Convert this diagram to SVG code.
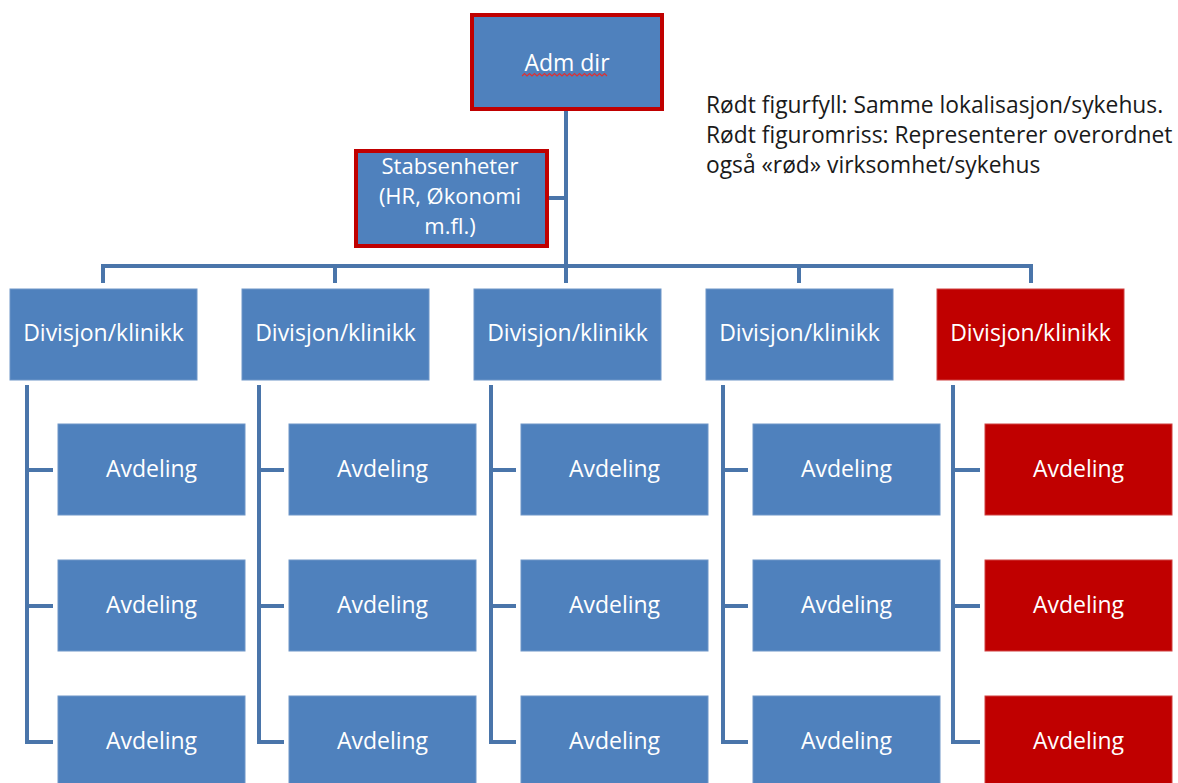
<svg xmlns="http://www.w3.org/2000/svg" width="1178" height="783" viewBox="0 0 1178 783">
  <style>
    .box { fill: #4F81BD; stroke: #6E96C8; stroke-width: 1; }
    .red { fill: #C00000; stroke: #D04040; stroke-width: 1; }
    .lead { fill: #4F81BD; stroke: #C00000; stroke-width: 4; }
    .lbl { font-family: "Open Sans", Lato, "Liberation Sans", sans-serif; font-size: 23px; fill: #FFFFFF; text-anchor: middle; }
    .stab { font-size: 22px; }
    .note { font-family: "Open Sans", Lato, "Liberation Sans", sans-serif; font-size: 22.8px; fill: #1A1A1A; }
    .wire { fill: none; stroke: #4A75AA; stroke-width: 4; stroke-linejoin: miter; }
  </style>
  <rect width="1178" height="783" fill="#FFFFFF"/>

  <!-- connectors -->
  <g id="connectors" class="wire">
    <path d="M566 111 V283"/>
    <path d="M549 198 H566"/>
    <path d="M103 283 V266 H1031 V283"/>
    <path d="M335 266 V283"/>
    <path d="M799 266 V283"/>
    <!-- column spines -->
    <path d="M27 385 V742 H53 M27 470 H53 M27 606 H53"/>
    <path d="M259 385 V742 H284 M259 470 H284 M259 606 H284"/>
    <path d="M491 385 V742 H516 M491 470 H516 M491 606 H516"/>
    <path d="M723 385 V742 H748 M723 470 H748 M723 606 H748"/>
    <path d="M953 385 V742 H980 M953 470 H980 M953 606 H980"/>
  </g>

  <!-- top -->
  <g id="adm-dir">
    <rect class="lead" x="472" y="15" width="190" height="94"/>
    <text class="lbl" x="567" y="71">Adm dir</text>
    <path d="M522 76 l2.5 -2.5 l2.5 2.5 l2.5 -2.5 l2.5 2.5 l2.5 -2.5 l2.5 2.5 l2.5 -2.5 l2.5 2.5 l2.5 -2.5 l2.5 2.5 l2.5 -2.5 l2.5 2.5 l2.5 -2.5 l2.5 2.5 l2.5 -2.5 l2.5 2.5 l2.5 -2.5 l2.5 2.5 l2.5 -2.5 l2.5 2.5 l2.5 -2.5 l2.5 2.5 l2.5 -2.5 l2.5 2.5 l2.5 -2.5 l2.5 2.5 l2.5 -2.5 l2.5 2.5 l2.5 -2.5 l2.5 2.5 l2.5 -2.5 l2.5 2.5 l2.5 -2.5 l2.5 2.5" fill="none" stroke="#E03030" stroke-width="1.2"/>
  </g>

  <g id="stabsenheter">
    <rect class="lead" x="356" y="151" width="191" height="95"/>
    <text class="lbl stab" x="450" y="174">Stabsenheter</text>
    <text class="lbl stab" x="450" y="204">(HR, Økonomi</text>
    <text class="lbl stab" x="450" y="234">m.fl.)</text>
  </g>

  <g id="legend">
    <text class="note" x="706" y="113">Rødt figurfyll: Samme lokalisasjon/sykehus.</text>
    <text class="note" x="706" y="143">Rødt figuromriss: Representerer overordnet</text>
    <text class="note" x="706" y="173">også «rød» virksomhet/sykehus</text>
  </g>

  <!-- divisions -->
  <g id="div-1"><rect class="box" x="10" y="289" width="187" height="91"/><text class="lbl" x="103.5" y="341">Divisjon/klinikk</text></g>
  <g id="div-2"><rect class="box" x="242" y="289" width="187" height="91"/><text class="lbl" x="335.5" y="341">Divisjon/klinikk</text></g>
  <g id="div-3"><rect class="box" x="474" y="289" width="187" height="91"/><text class="lbl" x="567.5" y="341">Divisjon/klinikk</text></g>
  <g id="div-4"><rect class="box" x="706" y="289" width="187" height="91"/><text class="lbl" x="799.5" y="341">Divisjon/klinikk</text></g>
  <g id="div-5"><rect class="red" x="937" y="289" width="187" height="91"/><text class="lbl" x="1030.5" y="341">Divisjon/klinikk</text></g>

  <!-- departments -->
  <g id="avd-1-1"><rect class="box" x="58" y="424" width="187" height="91"/><text class="lbl" x="151.5" y="477">Avdeling</text></g>
  <g id="avd-1-2"><rect class="box" x="58" y="560" width="187" height="91"/><text class="lbl" x="151.5" y="613">Avdeling</text></g>
  <g id="avd-1-3"><rect class="box" x="58" y="696" width="187" height="91"/><text class="lbl" x="151.5" y="749">Avdeling</text></g>

  <g id="avd-2-1"><rect class="box" x="289" y="424" width="187" height="91"/><text class="lbl" x="382.5" y="477">Avdeling</text></g>
  <g id="avd-2-2"><rect class="box" x="289" y="560" width="187" height="91"/><text class="lbl" x="382.5" y="613">Avdeling</text></g>
  <g id="avd-2-3"><rect class="box" x="289" y="696" width="187" height="91"/><text class="lbl" x="382.5" y="749">Avdeling</text></g>

  <g id="avd-3-1"><rect class="box" x="521" y="424" width="187" height="91"/><text class="lbl" x="614.5" y="477">Avdeling</text></g>
  <g id="avd-3-2"><rect class="box" x="521" y="560" width="187" height="91"/><text class="lbl" x="614.5" y="613">Avdeling</text></g>
  <g id="avd-3-3"><rect class="box" x="521" y="696" width="187" height="91"/><text class="lbl" x="614.5" y="749">Avdeling</text></g>

  <g id="avd-4-1"><rect class="box" x="753" y="424" width="187" height="91"/><text class="lbl" x="846.5" y="477">Avdeling</text></g>
  <g id="avd-4-2"><rect class="box" x="753" y="560" width="187" height="91"/><text class="lbl" x="846.5" y="613">Avdeling</text></g>
  <g id="avd-4-3"><rect class="box" x="753" y="696" width="187" height="91"/><text class="lbl" x="846.5" y="749">Avdeling</text></g>

  <g id="avd-5-1"><rect class="red" x="985" y="424" width="187" height="91"/><text class="lbl" x="1078.5" y="477">Avdeling</text></g>
  <g id="avd-5-2"><rect class="red" x="985" y="560" width="187" height="91"/><text class="lbl" x="1078.5" y="613">Avdeling</text></g>
  <g id="avd-5-3"><rect class="red" x="985" y="696" width="187" height="91"/><text class="lbl" x="1078.5" y="749">Avdeling</text></g>
</svg>
